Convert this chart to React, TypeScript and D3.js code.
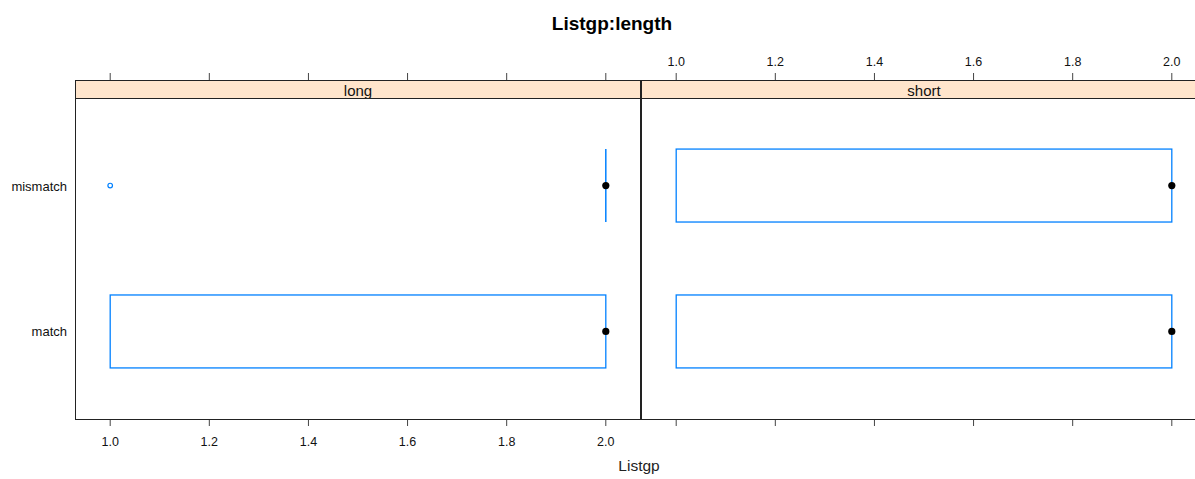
import React from "react";
import * as d3 from "d3";

const title = "Listgp:length";
const xLabel = "Listgp";
const panels = ["long", "short"];
const categories = ["match", "mismatch"];
const xTicks = [1.0, 1.2, 1.4, 1.6, 1.8, 2.0];

// box statistics per panel, indexed by category
const longLow = [1.0, 2.0];
const longQ1 = [1.0, 2.0];
const longMedian = [2.0, 2.0];
const longQ3 = [2.0, 2.0];
const longHigh = [2.0, 2.0];
const longOutliers = [[], [1.0]];

const shortLow = [1.0, 1.0];
const shortQ1 = [1.0, 1.0];
const shortMedian = [2.0, 2.0];
const shortQ3 = [2.0, 2.0];
const shortHigh = [2.0, 2.0];
const shortOutliers = [[], []];

const W = 1195;
const H = 479;
const BLUE = "#0080ff";
const FONT = "'Liberation Sans', Arial, sans-serif";

export default function App() {
  const panelTop = 98;
  const panelBottom = 419;
  const stripTop = 80;
  const panelW = 565;
  const panelLefts = [75, 641];

  const stats = [
    { low: longLow, q1: longQ1, med: longMedian, q3: longQ3, high: longHigh, out: longOutliers },
    { low: shortLow, q1: shortQ1, med: shortMedian, q3: shortQ3, high: shortHigh, out: shortOutliers },
  ];

  const y = d3.scaleLinear().domain([0.4, 2.6]).range([panelBottom, panelTop]);
  const boxHalf = (y(0) - y(0.5)) / 2;

  return (
    <svg width={W} height={H} style={{ position: "absolute", left: 0, top: 0, background: "#fff" }} fontFamily={FONT}>
      <rect x={0} y={0} width={W} height={H} fill="#fff" />
      <text x={612} y={30} textAnchor="middle" fontSize={19} fontWeight="bold" fill="#000">{title}</text>
      {/* y labels */}
      {categories.map((c, i) => (
        <text key={c} x={67} y={y(i + 1) + 5} textAnchor="end" fontSize={13} fill="#111">{c}</text>
      ))}
      {panels.map((p, pi) => {
        const x0 = panelLefts[pi];
        const x = d3.scaleLinear().domain([0.93, 2.07]).range([x0 + 0.5, x0 + panelW + 0.5]);
        const s = stats[pi];
        const labelTop = pi === 1;
        return (
          <g key={p}>
            {/* top ticks */}
            {xTicks.map((t) => (
              <g key={"t" + t}>
                <line x1={x(t)} x2={x(t)} y1={stripTop - 7} y2={stripTop} stroke="#444" />
                {labelTop && (
                  <text x={x(t)} y={stripTop - 14} textAnchor="middle" fontSize={12.5} fill="#111">{t.toFixed(1)}</text>
                )}
              </g>
            ))}
            {/* bottom ticks */}
            {xTicks.map((t) => (
              <g key={"b" + t}>
                <line x1={x(t)} x2={x(t)} y1={panelBottom} y2={panelBottom + 7} stroke="#444" />
                {!labelTop && (
                  <text x={x(t)} y={panelBottom + 27} textAnchor="middle" fontSize={12.5} fill="#111">{t.toFixed(1)}</text>
                )}
              </g>
            ))}
            {/* strip */}
            <rect x={x0 + 0.5} y={stripTop + 0.5} width={panelW} height={panelTop - stripTop} fill="#ffe5cc" stroke="#222" />
            <text x={x0 + panelW / 2 + 0.5} y={stripTop + 16} textAnchor="middle" fontSize={15} fill="#111">{p}</text>
            {/* panel */}
            <rect x={x0 + 0.5} y={panelTop + 0.5} width={panelW} height={panelBottom - panelTop} fill="none" stroke="#222" />
            {categories.map((c, ci) => {
              const cy = y(ci + 1);
              const q1 = s.q1[ci], q3 = s.q3[ci];
              const w = x(q3) - x(q1);
              return (
                <g key={c}>
                  {s.low[ci] < q1 && (
                    <line x1={x(s.low[ci])} x2={x(q1)} y1={cy} y2={cy} stroke={BLUE} />
                  )}
                  {s.high[ci] > q3 && (
                    <line x1={x(q3)} x2={x(s.high[ci])} y1={cy} y2={cy} stroke={BLUE} />
                  )}
                  {w > 0 ? (
                    <rect x={x(q1)} y={cy - boxHalf} width={w} height={boxHalf * 2} fill="none" stroke={BLUE} strokeWidth={1.3} />
                  ) : (
                    <line x1={x(q1)} x2={x(q1)} y1={cy - boxHalf} y2={cy + boxHalf} stroke={BLUE} strokeWidth={1.5} />
                  )}
                  {s.out[ci].map((o, oi) => (
                    <circle key={oi} cx={x(o)} cy={cy} r={2.3} fill="none" stroke={BLUE} strokeWidth={1.2} />
                  ))}
                  <circle cx={x(s.med[ci])} cy={cy} r={3.6} fill="#000" />
                </g>
              );
            })}
          </g>
        );
      })}
      <text x={639} y={471} textAnchor="middle" fontSize={15.5} fill="#222">{xLabel}</text>
    </svg>
  );
}
